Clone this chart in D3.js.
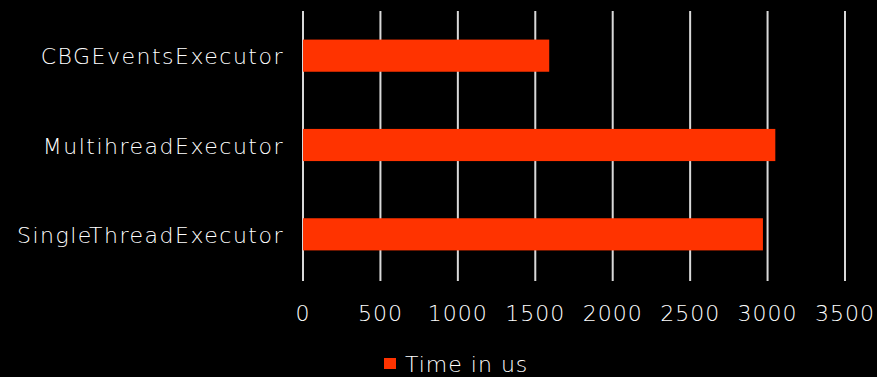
<!DOCTYPE html>
<html>
<head>
<meta charset="utf-8">
<script src="https://cdn.jsdelivr.net/npm/d3@7"></script>
<style>
  body { margin: 0; background: #000; }
  text { font-family: "DejaVu Sans", sans-serif; font-weight: 200; fill: #ffffff; letter-spacing: 1px; }
</style>
</head>
<body>
<div id="chart"></div>
<script>
var categories = ['CBGEventsExecutor', 'MultihreadExecutor', 'SingleThreadExecutor'];
var times = [1590, 3050, 2970];
var tickValues = [0, 500, 1000, 1500, 2000, 2500, 3000, 3500];
var seriesName = 'Time in us';

var width = 877, height = 377;
var margin = { left: 303, right: 32, top: 11, bottom: 98 };
var barColor = '#ff3300';

var svg = d3.select('#chart').append('svg')
  .attr('width', width)
  .attr('height', height)
  .style('background', '#000');

var x = d3.scaleLinear()
  .domain([0, 3500])
  .range([margin.left, width - margin.right]);

var y = d3.scaleBand()
  .domain(categories)
  .range([margin.top, height - margin.bottom])
  .paddingInner(0.64)
  .paddingOuter(0.32);

// vertical gridlines
svg.append('g').selectAll('line')
  .data(tickValues)
  .enter().append('line')
  .attr('x1', function(d) { return x(d); })
  .attr('x2', function(d) { return x(d); })
  .attr('y1', margin.top)
  .attr('y2', height - margin.bottom + 2)
  .attr('stroke', '#d9d9d9')
  .attr('stroke-width', 2);

// bars
svg.append('g').selectAll('rect')
  .data(categories)
  .enter().append('rect')
  .attr('x', x(0))
  .attr('y', function(d) { return y(d); })
  .attr('width', function(d, i) { return x(times[i]) - x(0); })
  .attr('height', y.bandwidth())
  .attr('fill', barColor);

// category labels
svg.append('g').selectAll('text')
  .data(categories)
  .enter().append('text')
  .attr('x', x(0) - 19)
  .attr('y', function(d) { return y(d) + y.bandwidth() / 2 + 1; })
  .attr('dy', '0.35em')
  .attr('text-anchor', 'end')
  .style('font-size', '22px')
  .style('letter-spacing', '1.5px')
  .text(function(d) { return d; });

// x tick labels
svg.append('g').selectAll('text')
  .data(tickValues)
  .enter().append('text')
  .attr('x', function(d) { return x(d); })
  .attr('y', 313)
  .attr('dy', '0.35em')
  .attr('text-anchor', 'middle')
  .style('font-size', '22px')
  .text(function(d) { return d; });

// legend
var legend = svg.append('g').attr('transform', 'translate(384,358)');
legend.append('rect')
  .attr('width', 12)
  .attr('height', 11)
  .attr('fill', barColor);
legend.append('text')
  .attr('x', 21)
  .attr('y', 6)
  .attr('dy', '0.35em')
  .style('font-size', '22px')
  .text(seriesName);
</script>
</body>
</html>
